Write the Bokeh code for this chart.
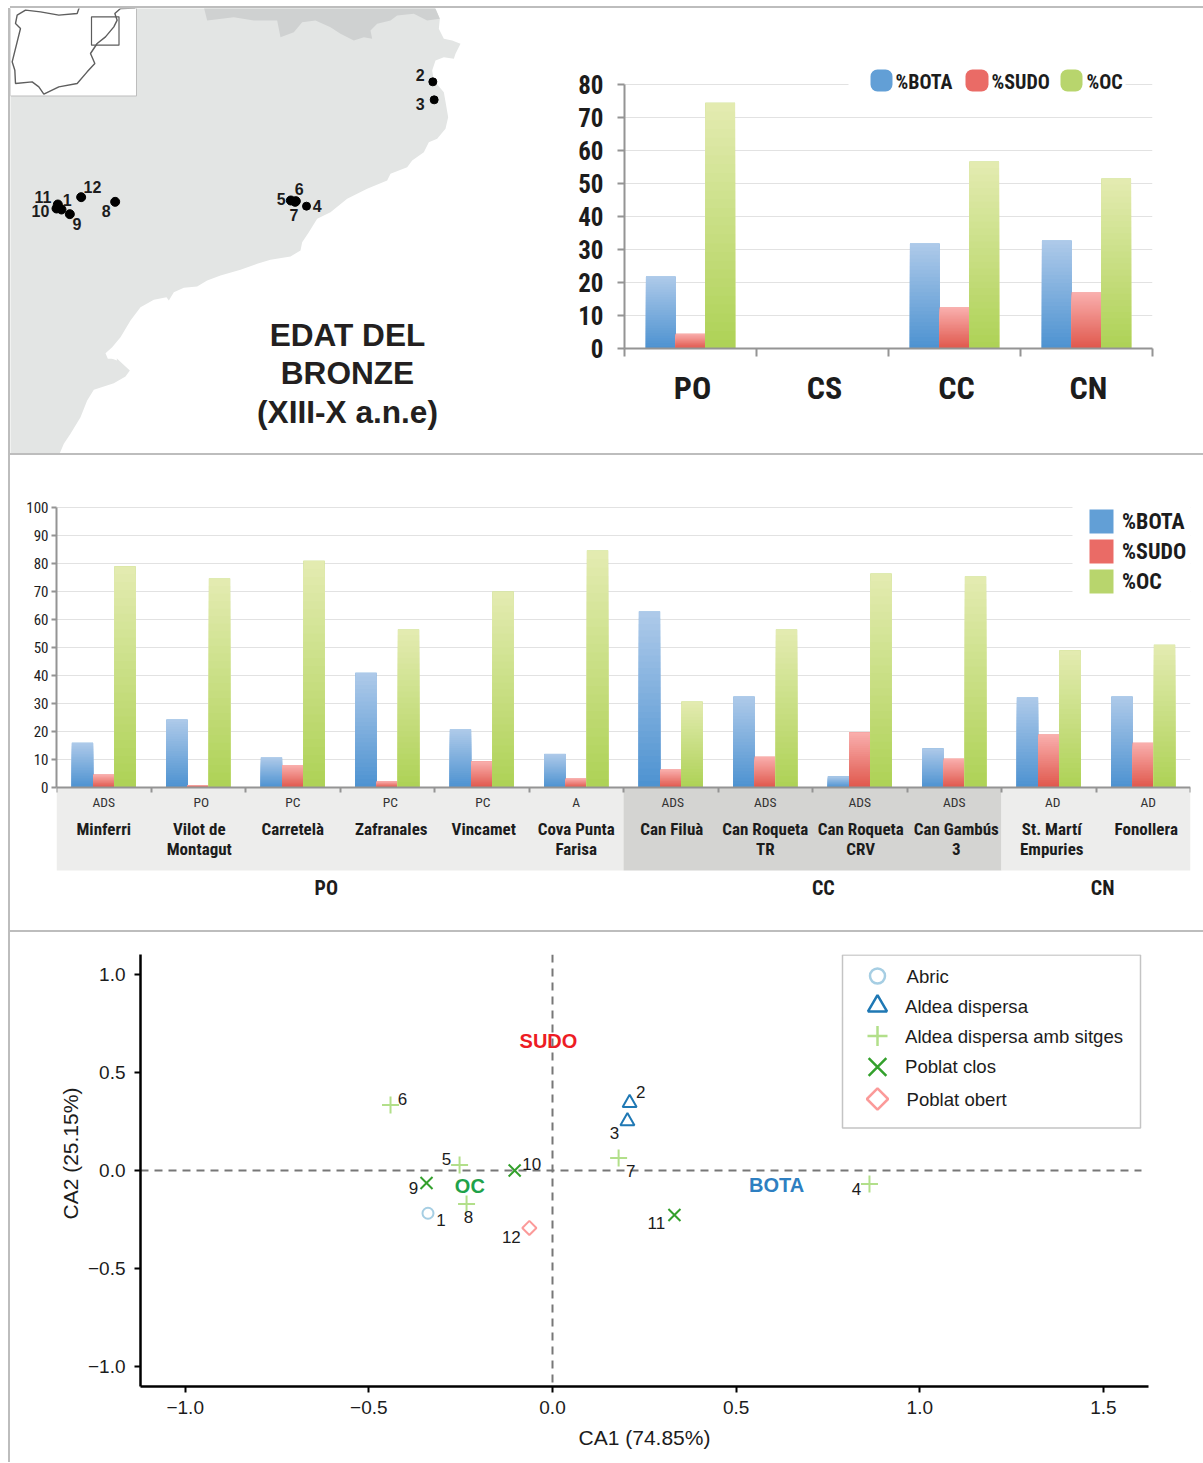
from bokeh.plotting import figure
from bokeh.layouts import column, row
from math import pi
from bokeh.models import Range1d, FixedTicker, Legend, LegendItem, Title, Span, Div, ColumnDataSource
from bokeh.core.properties import value
from bokeh.embed import file_html
from bokeh.resources import INLINE

NARROW = "Roboto Condensed"
SANS = "Liberation Sans"
INK = "#1c1c1c"

# ---------- data: grouped bars by settlement class
class_names = ["PO", "CS", "CC", "CN"]
class_bota = [21.8, 0, 31.8, 32.7]
class_sudo = [4.5, 0, 12.4, 17.0]
class_oc = [74.5, 0, 56.7, 51.5]

# ---------- data: bars by site
site_types = ["ADS", "PO", "PC", "PC", "PC", "A", "ADS", "ADS", "ADS", "ADS", "AD", "AD"]
site_line1 = ["Minferri", "Vilot de", "Carretelà", "Zafranales", "Vincamet", "Cova Punta",
              "Can Filuà", "Can Roqueta", "Can Roqueta", "Can Gambús", "St. Martí", "Fonollera"]
site_line2 = ["", "Montagut", "", "", "", "Farisa", "", "TR", "CRV", "3", "Empuries", ""]
site_bota = [16.0, 24.3, 10.7, 41.0, 20.7, 12.0, 62.9, 32.5, 4.0, 14.0, 32.1, 32.5]
site_sudo = [4.6, 0.8, 8.0, 2.2, 9.4, 3.2, 6.4, 11.0, 19.7, 10.3, 18.9, 16.0]
site_oc = [79.0, 74.6, 81.0, 56.4, 70.0, 84.6, 30.7, 56.4, 76.4, 75.4, 49.0, 51.0]
type_dx = [0, 3, 0, 3, 1, 0, 2, 0, 0, 0, 4, 5]
name_dx = [0, 1, 0, 4, 2, 0, 1, 0, 1, 2, 3, 3]
group_names = ["PO", "CC", "CN"]
group_pos = [2.855, 8.115, 11.07]
band_start = [0, 6, 10]
band_end = [6, 10, 12]
band_color = ["#ededec", "#d4d4d2", "#ededec"]

# ---------- data: correspondence analysis
ca_ids = ["1", "2", "3", "4", "5", "6", "7", "8", "9", "10", "11", "12"]
ca1 = [-0.339, 0.210, 0.204, 0.863, -0.253, -0.441, 0.180, -0.234, -0.343, -0.103, 0.332, -0.063]
ca2 = [-0.218, 0.345, 0.252, -0.069, 0.028, 0.334, 0.064, -0.171, -0.064, 0.000, -0.227, -0.293]
ca_dx = [13, 11, -13, -13, -13, 12, 12, 2, -13, 17, -18, -18]
ca_dy = [7, -11, 12, 5, -6, -6, 13, 13, 5, -7, 8, 9]
ca_type = ["Abric", "Aldea dispersa", "Aldea dispersa", "Aldea dispersa amb sitges", "Aldea dispersa amb sitges",
           "Aldea dispersa amb sitges", "Aldea dispersa amb sitges", "Aldea dispersa amb sitges",
           "Poblat clos", "Poblat clos", "Poblat clos", "Poblat obert"]
ca_vars = ["SUDO", "BOTA", "OC"]
ca_var_x = [-0.011, 0.61, -0.225]
ca_var_y = [0.66, -0.074, -0.079]
ca_var_col = ["#ed1c24", "#2e7fc1", "#1fa24a"]
type_names = ["Abric", "Aldea dispersa", "Aldea dispersa amb sitges", "Poblat clos", "Poblat obert"]
type_marker = ["circle", "triangle", "cross", "x", "square"]
type_angle = [0, 0, 0, 0, pi / 4]
type_color = ["#a6cee3", "#1f78b4", "#b2df8a", "#33a02c", "#fb9a99"]
type_size = [11, 14, 17, 17, 10]
key_size = [15, 19, 20, 25, 15]
key_y = [976, 1006, 1036, 1067, 1099]
key_label_x = [906, 904.5, 904.5, 904.5, 906]
key_label_y = [976, 1006, 1036, 1066, 1099]

# ---------- map geometry (zoomed map units, 3 per page pixel)
land_x = [1303, 1318, 1315, 1330, 1355, 1380, 1365, 1360, 1330, 1305, 1295, 1300, 1330, 1337, 1343, 1335, 1310, 1285, 1270,
          1235, 1220, 1170, 1160, 1100, 1040, 990, 950, 925, 905, 900, 870, 810, 770, 720, 660, 620, 590, 550, 520, 505, 498, 460, 420, 390,
          360, 335, 315, 322, 350, 375, 388, 375, 340, 280, 260, 240, 210, 190, 175, 28, 28, 407, 407]
land_y = [20, 55, 85, 115, 120, 130, 160, 175, 170, 180, 210, 240, 275, 315, 350, 385, 415, 425, 455,
          480, 500, 520, 540, 565, 595, 635, 655, 695, 725, 750, 768, 778, 790, 808, 825, 840, 858, 862, 875, 900, 890, 898, 920, 960,
          1010, 1040, 1058, 1075, 1075, 1098, 1110, 1128, 1148, 1168, 1200, 1250, 1300, 1330, 1365, 1365, 286, 286, 20]
pyr_x = [1303, 1318, 1280, 1240, 1190, 1170, 1130, 1110, 1115, 1090, 1060, 1020, 990, 945, 905, 880, 840, 830, 760, 700, 620, 610]
pyr_y = [20, 55, 60, 40, 45, 60, 70, 90, 115, 110, 120, 100, 80, 60, 65, 95, 110, 60, 60, 50, 60, 20]
notch_x = [322, 345, 350, 335]
notch_y = [1062, 1065, 1080, 1075]
lagoon_x = [272, 290, 330, 315, 285]
lagoon_y = [1195, 1185, 1160, 1190, 1208]
iber_x = [237, 230, 175, 120, 75, 50, 45, 60, 50, 35, 43, 45, 95, 115, 130, 175, 230, 260, 283, 270, 290, 315, 340, 350, 343, 360, 405]
iber_y = [19, 39, 44, 34, 29, 44, 69, 84, 124, 184, 209, 249, 244, 259, 281, 259, 249, 214, 189, 159, 129, 109, 79, 59, 39, 24, 23]
site_ids = ["1", "2", "3", "4", "5", "6", "7", "8", "9", "10", "11", "12"]
site_x = [183, 1297, 1301, 918, 871, 886, 884, 344, 208, 168, 172, 242]
site_y = [627, 244, 298, 617, 600, 602, 604, 604, 641, 624, 612, 590]
site_d = [9, 8, 8, 8, 9, 9, 9, 9, 9, 9, 9, 9]
lab_x = [200, 1259, 1259, 950, 842, 896, 880, 317, 229, 120, 127, 276]
lab_y = [597, 222, 310, 617, 595, 565, 643, 632, 670, 632, 590, 560]
title_lines = ["EDAT DEL", "BRONZE", "(XIII-X a.n.e)"]
title_y = [1002, 1117, 1233]

# ---------- colours
SERIES = ["%BOTA", "%SUDO", "%OC"]
LEG = {"%BOTA": "#629fd6", "%SUDO": "#ea6b66", "%OC": "#b8d56d"}
TOP = {"%BOTA": (173, 201, 233), "%SUDO": (249, 174, 172), "%OC": (227, 235, 176)}
BOT = {"%BOTA": (78, 147, 209), "%SUDO": (224, 89, 78), "%OC": (174, 210, 87)}
GRID = "#e2e2e2"
AX = "#949494"
LEVELS = 28


def shaded_bars(p, series, bar_w, x0=0.5):
    """Draw each series as a vbar, then overpaint with decreasing heights for the vertical shading."""
    items = []
    for off, (name, vals) in zip((-bar_w, 0, bar_w), series):
        xs = [i + x0 + off for i in range(len(vals))]
        base = p.vbar(x=xs, top=vals, width=bar_w, bottom=0, fill_color=LEG[name], line_color=None)
        items.append(LegendItem(label=name, renderers=[base]))
        sx, st, sc = [], [], []
        for k in range(LEVELS):
            f = k / (LEVELS - 1)
            rgb = tuple(round(a + (b - a) * f) for a, b in zip(TOP[name], BOT[name]))
            col = "#%02x%02x%02x" % rgb
            for x, v in zip(xs, vals):
                if v > 0:
                    sx.append(x)
                    st.append(v * (1 - k / LEVELS))
                    sc.append(col)
        p.vbar(x="x", top="t", width=bar_w, bottom=0, fill_color="c", line_color=None,
               source=ColumnDataSource(dict(x=sx, t=st, c=sc)))
    return items


# ---------- map panel
m = figure(width=550, height=445, x_range=Range1d(10, 560), y_range=Range1d(453, 8), frame_align=False,
           output_backend="svg", toolbar_location=None, min_border=0, outline_line_color=None)
m.axis.visible = False
m.grid.visible = False
t3 = lambda seq: [v / 3 for v in seq]
m.patch(t3(land_x), t3(land_y), fill_color="#e3e5e4", line_color=None)
m.patch(t3(pyr_x), t3(pyr_y), fill_color="#cfd1d1", line_color=None)
m.patch(t3(notch_x), t3(notch_y), fill_color="white", line_color=None)
m.patch(t3(lagoon_x), t3(lagoon_y), fill_color="white", line_color=None)
m.quad(left=[10], right=[136], top=[7], bottom=[95.5], fill_color="white", line_color="#bdbdbd", line_width=1)
m.line(t3(iber_x), t3(iber_y), line_color="#5e5e5e", line_width=1.4)
m.quad(left=[91], right=[118.5], top=[16.3], bottom=[44.7], fill_color=None, line_color="#5c5c5c", line_width=1.2)
m.scatter(t3(site_x), t3(site_y), size=site_d, marker="circle", fill_color="black", line_color="black")
m.text(t3(lab_x), t3(lab_y), text=site_ids, text_font=value(SANS), text_font_style="bold", text_font_size="16px",
       text_color=INK, text_align="center", text_baseline="middle")
m.text([347] * 3, t3(title_y), text=title_lines, text_font=value(SANS), text_font_style="bold", text_font_size="31.6px",
       text_color="#231f20", text_align="center", text_baseline="middle")

# ---------- class bars
S1 = 3.3
b1 = figure(width=643, height=445, x_range=Range1d(0, 4), y_range=Range1d(0, 288 / S1), frame_align=False,
            output_backend="svg", toolbar_location=None, outline_line_color=None,
            min_border_left=64, min_border_right=51, min_border_top=52, min_border_bottom=105)
shaded_bars(b1, [("%BOTA", class_bota), ("%SUDO", class_sudo), ("%OC", class_oc)], 0.225)
b1.xgrid.visible = False
b1.ygrid.grid_line_color = GRID
b1.ygrid.ticker = FixedTicker(ticks=list(range(0, 81, 10)))
b1.yaxis.ticker = FixedTicker(ticks=list(range(0, 81, 10)))
b1.yaxis.bounds = (0, 80)
b1.yaxis.major_label_text_font = NARROW
b1.yaxis.major_label_text_font_style = "bold"
b1.yaxis.major_label_text_font_size = "25px"
b1.yaxis.major_label_text_color = INK
b1.yaxis.major_label_standoff = 14
b1.yaxis.major_tick_in = 0
b1.yaxis.major_tick_out = 7
b1.yaxis.minor_tick_line_color = None
name_ticks = [i + 0.515 for i in range(4)]
b1.xaxis.ticker = FixedTicker(ticks=name_ticks, minor_ticks=[0, 1, 2, 3, 4])
b1.xaxis.major_label_overrides = dict(zip(name_ticks, class_names))
b1.xaxis.major_tick_line_color = None
b1.xaxis.minor_tick_in = 0
b1.xaxis.minor_tick_out = 8
b1.xaxis.major_label_text_font = NARROW
b1.xaxis.major_label_text_font_style = "bold"
b1.xaxis.major_label_text_font_size = "32px"
b1.xaxis.major_label_text_color = INK
b1.xaxis.major_label_standoff = 12
for ax in (b1.xaxis, b1.yaxis):
    ax.axis_line_color = AX
    ax.axis_line_width = 2
    ax.major_tick_line_width = 2
    ax.minor_tick_line_width = 2
b1.xaxis.minor_tick_line_color = AX
b1.yaxis.major_tick_line_color = AX
# key of the class bars, placed in frame units
fx = lambda px: [(v - 624) / 132 for v in px]
fy = lambda py: [(348 - v) / S1 for v in py]
b1.quad(left=fx([848]), right=fx([1125]), top=fy([66]), bottom=fy([96]), fill_color="white", line_color=None)
b1.quad(left=fx([870, 965, 1060]), right=fx([892, 988, 1082]), top=fy([69] * 3), bottom=fy([91] * 3),
        fill_color=[LEG[s] for s in SERIES], line_color=None, border_radius=7)
b1.text(fx([895, 991, 1086]), fy([81] * 3), text=SERIES, text_font=value(NARROW), text_font_style="bold",
        text_font_size="20px", text_color=INK, text_align="left", text_baseline="middle")

# ---------- site bars
PX2 = 2.8
b2 = figure(width=1193, height=475, x_range=Range1d(0, 12), y_range=Range1d(-128 / PX2, 100 + 7 / PX2), frame_align=False,
            output_backend="svg", toolbar_location=None, outline_line_color=None,
            min_border_left=46, min_border_right=13, min_border_top=45, min_border_bottom=15)
b2.quad(left=band_start, right=band_end, top=[0] * 3, bottom=[-83 / PX2] * 3, fill_color=band_color, line_color=None)
# white field behind the key interrupts the upper grid lines
b2.quad(left=[(1072 - 56) / 94.5], right=[12], top=[103], bottom=[65], fill_color="white", line_color=None)
items2 = shaded_bars(b2, [("%BOTA", site_bota), ("%SUDO", site_sudo), ("%OC", site_oc)], 0.225)
centers = [i + 0.5 for i in range(12)]
b2.text(centers, [-14 / PX2] * 12, x_offset=type_dx, text=site_types, text_font=value(NARROW), text_font_size="13.5px",
        text_color="#333333", text_align="center", text_baseline="middle")
b2.text(centers, [-41 / PX2] * 12, x_offset=name_dx, text=site_line1, text_font=value(NARROW), text_font_style="bold",
        text_font_size="17px", text_color=INK, text_align="center", text_baseline="middle")
b2.text(centers, [-61 / PX2] * 12, x_offset=name_dx, text=site_line2, text_font=value(NARROW), text_font_style="bold",
        text_font_size="17px", text_color=INK, text_align="center", text_baseline="middle")
b2.text(group_pos, [-100 / PX2] * 3, text=group_names, text_font=value(NARROW), text_font_style="bold",
        text_font_size="20px", text_color=INK, text_align="center", text_baseline="middle")
b2.xgrid.visible = False
b2.ygrid.grid_line_color = GRID
b2.ygrid.ticker = FixedTicker(ticks=list(range(0, 101, 10)))
b2.yaxis.ticker = FixedTicker(ticks=list(range(0, 101, 10)))
b2.yaxis.bounds = (0, 100)
b2.yaxis.major_label_text_font = NARROW
b2.yaxis.major_label_text_font_size = "15px"
b2.yaxis.major_label_text_color = INK
b2.yaxis.major_label_standoff = 3
b2.yaxis.major_tick_in = 0
b2.yaxis.major_tick_out = 5
b2.yaxis.minor_tick_line_color = None
b2.xaxis.fixed_location = 0
b2.xaxis.ticker = FixedTicker(ticks=list(range(13)))
b2.xaxis.major_label_text_color = None
b2.xaxis.major_tick_in = 0
b2.xaxis.major_tick_out = 5
b2.xaxis.minor_tick_line_color = None
for ax in (b2.xaxis, b2.yaxis):
    ax.axis_line_color = AX
    ax.axis_line_width = 2
    ax.major_tick_line_color = AX
    ax.major_tick_line_width = 2
b2.add_layout(Legend(items=items2, location=(1030, 319), padding=14, spacing=0, glyph_width=30, glyph_height=30,
                     label_standoff=6, border_line_color=None, background_fill_color="white", background_fill_alpha=0,
                     margin=0, label_text_font=NARROW, label_text_font_style="bold", label_text_font_size="22px",
                     label_text_color=INK))

# ---------- correspondence analysis
SX, SY = 367.3, 196.0
p3 = figure(width=1193, height=530, x_range=Range1d(-412 / SX, 596 / SX), y_range=Range1d(-216 / SY, 216 / SY), frame_align=False,
            output_backend="svg", toolbar_location=None, outline_line_color=None,
            min_border_left=130, min_border_right=55, min_border_top=22, min_border_bottom=76)
p3.grid.visible = False
p3.segment(x0=[-412 / SX], x1=[(1141 - 552) / SX], y0=[0], y1=[0], line_color="#777777", line_width=2, line_dash="8 6")
p3.add_layout(Span(location=0, dimension="height", line_color="#777777", line_width=2, line_dash="8 6"))
for name, mk, col, sz, ang in zip(type_names, type_marker, type_color, type_size, type_angle):
    xs = [a for a, t in zip(ca1, ca_type) if t == name]
    ys = [b for b, t in zip(ca2, ca_type) if t == name]
    p3.scatter(xs, ys, marker=mk, size=sz, angle=ang, fill_color=None, line_color=col, line_width=2)
p3.text(ca1, ca2, text=ca_ids, x_offset=ca_dx, y_offset=ca_dy, text_font=value(SANS), text_font_size="17px",
        text_color=INK, text_align="center", text_baseline="middle")
p3.text(ca_var_x, ca_var_y, text=ca_vars, text_color=ca_var_col, text_font=value(SANS), text_font_style="bold",
        text_font_size="20px", text_align="center", text_baseline="middle")
p3.xaxis.ticker = FixedTicker(ticks=[-1.0, -0.5, 0.0, 0.5, 1.0, 1.5])
p3.yaxis.ticker = FixedTicker(ticks=[-1.0, -0.5, 0.0, 0.5, 1.0])
over = {-1.0: "\u22121.0", -0.5: "\u22120.5", 0.0: "0.0", 0.5: "0.5", 1.0: "1.0", 1.5: "1.5"}
p3.xaxis.major_label_overrides = over
p3.yaxis.major_label_overrides = {k: v for k, v in over.items() if k < 1.5}
for ax in (p3.xaxis, p3.yaxis):
    ax.axis_line_color = "black"
    ax.axis_line_width = 2.5
    ax.major_tick_line_color = "black"
    ax.major_tick_line_width = 2
    ax.major_tick_in = 0
    ax.major_tick_out = 6
    ax.minor_tick_line_color = None
    ax.major_label_text_font = SANS
    ax.major_label_text_font_size = "19px"
    ax.major_label_text_color = INK
p3.xaxis.major_label_standoff = 8
p3.yaxis.major_label_standoff = 9
p3.xaxis.axis_label = "CA1 (74.85%)"
p3.xaxis.axis_label_text_font = SANS
p3.xaxis.axis_label_text_font_style = "normal"
p3.xaxis.axis_label_text_font_size = "21px"
p3.xaxis.axis_label_text_color = INK
p3.xaxis.axis_label_standoff = 9
p3.add_layout(Title(text="CA2 (25.15%)", align="left", offset=167, standoff=6, text_font=SANS, text_font_style="normal",
                    text_font_size="21px", text_color=INK), "left")
# key of the scatter, placed in frame units
gx = lambda px: [(v - 552) / SX for v in px]
gy = lambda py: [(1170.5 - v) / SY for v in py]
p3.quad(left=gx([842]), right=gx([1140]), top=gy([955]), bottom=gy([1128]), fill_color="white",
        line_color="#c4c4c4", line_width=1.5)
for mk, col, sz, ang, ky in zip(type_marker, type_color, key_size, type_angle, key_y):
    p3.scatter(gx([877]), gy([ky]), marker=mk, size=sz, angle=ang, fill_color=None, line_color=col, line_width=2.5)
p3.text(gx(key_label_x), gy(key_label_y), text=type_names, text_font=value(SANS), text_font_size="18.6px",
        text_color=INK, text_align="left", text_baseline="middle")


def sep():
    return Div(width=1193, height=2, margin=0, styles={"background-color": "#bdbdbd"})


page = column(row(m, b1, spacing=0), sep(), b2, sep(), p3, spacing=0, margin=(8, 0, 0, 10),
              styles={"box-shadow": "-2px 0 0 #bdbdbd, 0 -2px 0 #bdbdbd"})
open("out.html", "w").write(file_html(page, INLINE))
